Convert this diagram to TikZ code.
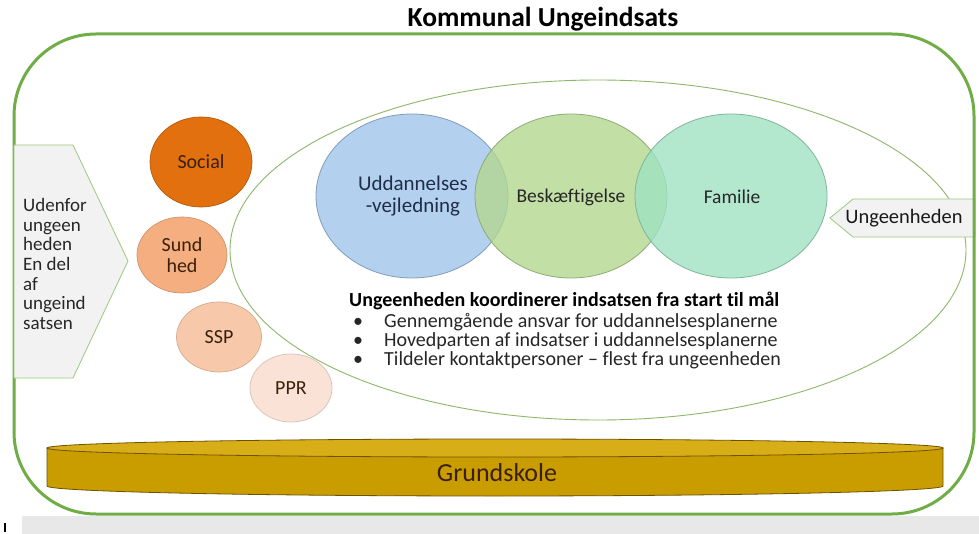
\documentclass[tikz,border=0pt]{standalone}
\usepackage{fontspec}
\setmainfont{Carlito}[Ligatures=NoCommon]
\usetikzlibrary{shapes.geometric}
\definecolor{frame}{HTML}{70AD47}
\definecolor{ellg}{HTML}{8DB86A}
\definecolor{boxfill}{HTML}{F2F2F2}
\definecolor{boxline}{HTML}{9CC97A}
\definecolor{barg}{HTML}{E8E8E8}
\definecolor{socialc}{HTML}{E2700F}
\definecolor{sundc}{HTML}{F4AE80}
\definecolor{sspc}{HTML}{F7C9AA}
\definecolor{pprc}{HTML}{FAE3D6}
\definecolor{brownt}{HTML}{3A200C}
\definecolor{bluec}{HTML}{9EC4EA}
\definecolor{greenc}{HTML}{B2D78E}
\definecolor{tealc}{HTML}{9EE2C2}
\definecolor{navyt}{HTML}{1F2D48}
\definecolor{gold}{HTML}{C99C00}
\definecolor{goldtop}{HTML}{D8AE18}
\definecolor{goldline}{HTML}{6E5200}
\tikzset{
  ball/.style={ellipse, inner sep=0pt, line width=0.7pt, text=brownt,
    font=\fontsize{20}{21}\selectfont, align=center},
  bigball/.style={ellipse, inner sep=0pt, line width=0.8pt, fill opacity=0.78,
    text opacity=1, font=\fontsize{21}{22}\selectfont, align=center},
  arrowbox/.style={draw=boxline, fill=boxfill, line width=0.8pt},
  bodytext/.style={font=\fontsize{20}{20}\selectfont, inner sep=0pt, text=black!85}
}
\begin{document}
\begin{tikzpicture}[x=1pt,y=-1pt]
\useasboundingbox (0,0) rectangle (979,534);
\fill[white] (0,0) rectangle (979,534);
% bottom grey bar and mark
\fill[barg] (22,516) rectangle (979,534);
\coordinate (m1) at (5,523);
\coordinate (m2) at (5,532);
\draw[black, line width=1.3pt] (m1) -- (m2);
% title
\node[font=\bfseries\fontsize{27.5}{28}\selectfont, inner sep=0pt] (title) at (543,19) {Kommunal Ungeindsats};
% big ellipse (ungeenheden)
\node[draw=ellg, line width=0.9pt, ellipse, minimum width=736pt, minimum height=340pt, inner sep=0pt] (unit) at (598,250) {};
% right arrow box
\draw[arrowbox] (975,199) coordinate (r1) -- (853,199) -- (830,218) coordinate (rtip) -- (853,237) -- (975,237) -- cycle;
\node[bodytext, text=black!90, font=\fontsize{20.5}{21}\selectfont] (ung) at (904,218) {Ungeenheden};
% outer frame
\draw[frame, line width=3pt, rounded corners=82pt] (14,34) rectangle (974,514);
% left arrow box
\draw[arrowbox] (14,145) coordinate (l1) -- (73,145) -- (128,261) coordinate (ltip) -- (73,378) -- (14,378) -- cycle;
\node[bodytext, anchor=west, align=left, font=\fontsize{19}{19.7}\selectfont] (udenfor) at (23,264)
  {Udenfor\\ungeen\\heden\\En del\\af\\ungeind\\satsen};
% orange circles
\node[ball, fill=socialc, draw=socialc!80!black, minimum width=102pt, minimum height=90pt] (social) at (201,162) {Social};
\node[ball, fill=sundc, draw=sundc!85!black, minimum width=90pt, minimum height=76pt] (sund) at (182,255) {Sund\\hed};
\node[ball, fill=sspc, draw=sspc!85!black, minimum width=85pt, minimum height=70pt] (ssp) at (219,337) {SSP};
\node[ball, fill=pprc, draw=pprc!85!black, minimum width=82pt, minimum height=68pt] (ppr) at (291,388) {PPR};
% big circles
\node[bigball, fill=bluec, draw=bluec!80!black, minimum width=192pt, minimum height=164pt] (udd) at (412,196) {};
\node[bigball, fill=greenc, draw=greenc!80!black, minimum width=192pt, minimum height=164pt] (besk) at (571,196) {};
\node[bigball, fill=tealc, draw=tealc!80!black, minimum width=192pt, minimum height=164pt] (fam) at (731,196) {};
\node[font=\fontsize{21}{22}\selectfont, text=navyt, align=center] (uddt) at (413,196) {Uddannelses\\-vejledning};
\node[font=\fontsize{19.5}{20}\selectfont, text=black!85] (beskt) at (571,197) {Beskæftigelse};
\node[font=\fontsize{19.5}{20}\selectfont, text=black!85] (famt) at (732,197) {Familie};
% text block
\node[bodytext, anchor=base west, font=\bfseries\fontsize{20}{20}\selectfont, text=black] (head) at (349,307) {Ungeenheden koordinerer indsatsen fra start til mål};
\node[bodytext, anchor=base] (b1) at (358,327) {•};
\node[bodytext, anchor=base west] (t1) at (384,327) {Gennemgående ansvar for uddannelsesplanerne};
\node[bodytext, anchor=base] (b2) at (358,346) {•};
\node[bodytext, anchor=base west] (t2) at (384,346) {Hovedparten af indsatser i uddannelsesplanerne};
\node[bodytext, anchor=base] (b3) at (358,365) {•};
\node[bodytext, anchor=base west] (t3) at (384,365) {Tildeler kontaktpersoner – flest fra ungeenheden};
% Grundskole cylinder
\fill[gold, draw=goldline, line width=0.8pt] (47,448) -- (47,486) arc[start angle=180, end angle=360, x radius=448, y radius=-10] -- (943,448) -- cycle;
\draw[fill=goldtop, draw=goldline, line width=0.8pt] (495,448) ellipse[x radius=448, y radius=9];
\node[font=\fontsize{26}{26}\selectfont, text=brownt] (grund) at (497,473) {Grundskole};
\end{tikzpicture}
\end{document}
